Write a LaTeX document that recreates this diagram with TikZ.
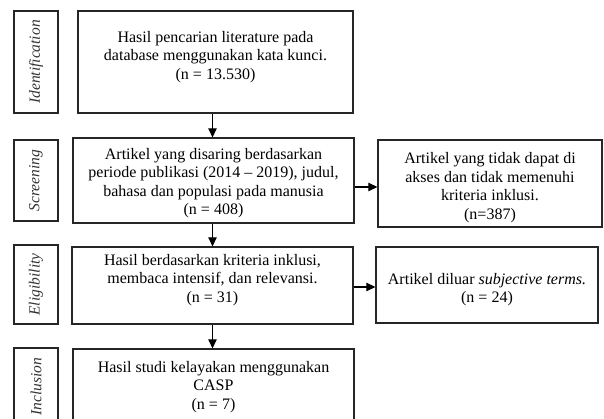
\documentclass[tikz,border=0pt]{standalone}
\usepackage{fontspec}
\setmainfont{Liberation Serif}
\usetikzlibrary{arrows.meta}
\begin{document}
\begin{tikzpicture}[x=1pt,y=-1pt,
  frame/.style={draw=black!85, line width=1.3pt, rectangle, inner sep=0pt},
  txt/.style={align=center, inner sep=0pt, font=\fontsize{16}{18.5}\selectfont},
  side/.style={rotate=90, inner sep=0pt, font=\fontsize{15.5}{18}\selectfont\itshape, text=black!80},
  arr/.style={draw=black, line width=1.2pt, -{Triangle[length=9pt,width=8.5pt]}}]
\useasboundingbox (0,0) rectangle (604,419);
% side label boxes
\node[frame, minimum width=44pt, minimum height=102pt] (l1) at (36,62) {};
\node[frame, minimum width=44pt, minimum height=81pt] (l2) at (36,180.5) {};
\node[frame, minimum width=44pt, minimum height=79pt] (l3) at (36,284.5) {};
\node[frame, minimum width=44pt, minimum height=77pt] (l4) at (36,386.5) {};
\node[side] (t1) at (l1.center) {Identification};
\node[side] (t2) at (l2.center) {Screening};
\node[side] (t3) at (l3.center) {Eligibility};
\node[side] (t4) at (l4.center) {Inclusion};
% main boxes
\node[frame, minimum width=275pt, minimum height=102pt] (b1) at (215.5,62) {};
\node[frame, minimum width=281pt, minimum height=85pt] (b2) at (213.5,180.5) {};
\node[frame, minimum width=281pt, minimum height=77pt] (b3) at (212.5,285.5) {};
\node[frame, minimum width=281pt, minimum height=77pt] (b4) at (213.5,387.5) {};
\node[frame, minimum width=224pt, minimum height=87pt] (r1) at (490,183.5) {};
\node[frame, minimum width=222pt, minimum height=76pt] (r2) at (487,285) {};
% texts
\node[txt] (x1) at (215.5,57) {Hasil pencarian literature pada\\database menggunakan kata kunci.\\(n = 13.530)};
\node[txt] (x2) at (213.5,183) {Artikel yang disaring berdasarkan\\periode publikasi (2014 -- 2019), judul,\\bahasa dan populasi pada manusia\\(n = 408)};
\node[txt] (x3) at (212.5,280) {Hasil berdasarkan kriteria inklusi,\\membaca intensif, dan relevansi.\\(n = 31)};
\node[txt] (x4) at (213.5,387) {Hasil studi kelayakan menggunakan\\CASP\\(n = 7)};
\node[txt] (y1) at (490,187.5) {Artikel yang tidak dapat di\\akses dan tidak memenuhi\\kriteria inklusi.\\(n=387)};
\node[txt] (y2) at (487,289.5) {Artikel diluar \textit{subjective terms.}\\(n = 24)};
% connectors
\coordinate (ax) at (212.5,0);
\coordinate (ay1) at (0,187);
\coordinate (ay2) at (0,287);
\draw[arr] (b1.south -| ax) -- (b2.north -| ax);
\draw[arr] (b2.south -| ax) -- (b3.north -| ax);
\draw[arr] (b3.south -| ax) -- (b4.north -| ax);
\draw[arr] (b2.east |- ay1) -- (r1.west |- ay1);
\draw[arr] (b3.east |- ay2) -- (r2.west |- ay2);
\end{tikzpicture}
\end{document}
